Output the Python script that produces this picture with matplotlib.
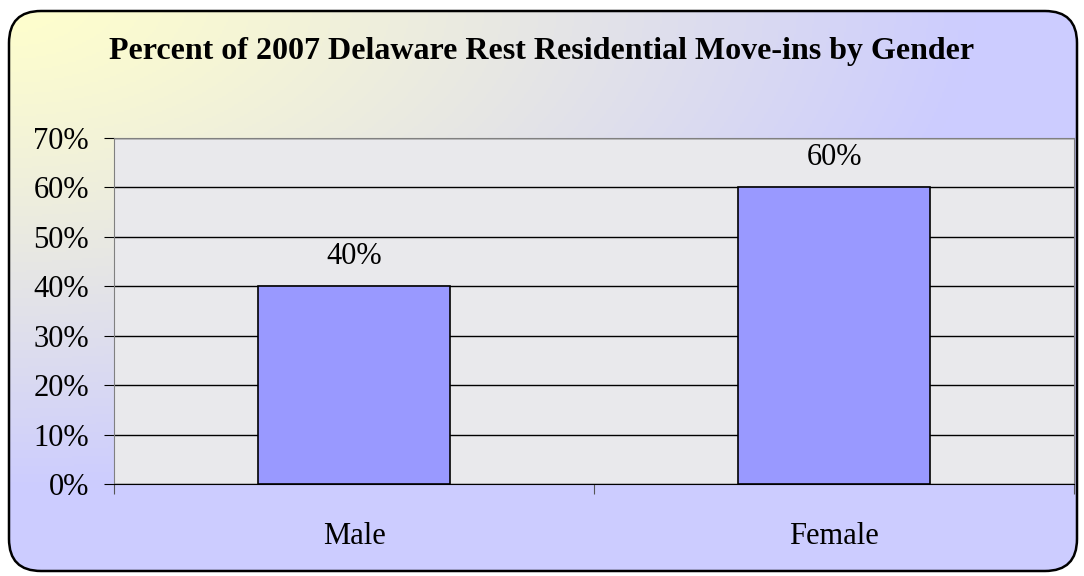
import numpy as np
import matplotlib
matplotlib.use("Agg")
import matplotlib.pyplot as plt
from matplotlib.patches import FancyBboxPatch
from matplotlib.ticker import PercentFormatter

categories = ["Male", "Female"]
percents = [0.40, 0.60]
bar_labels = ["40%", "60%"]

plt.rcParams['font.family'] = ['Liberation Serif', 'DejaVu Serif']

W, H = 1084, 576
fig = plt.figure(figsize=(W / 100, H / 100), dpi=100)

# background: rounded box with a yellow -> lavender gradient from the top-left corner
bg = fig.add_axes([0, 0, 1, 1])
bg.set_xlim(0, W)
bg.set_ylim(H, 0)
bg.axis('off')
yy, xx = np.mgrid[0:H:2, 0:W:2]
t = np.clip(np.sqrt((xx / (0.9 * W)) ** 2 + (yy / (0.85 * H)) ** 2), 0, 1) ** 1.2
c0 = np.array([1.0, 1.0, 0.80])
c1 = np.array([0.80, 0.80, 1.0])
img = c0 * (1 - t[..., None]) + c1 * t[..., None]
box = FancyBboxPatch((9, 11), 1068, 560, boxstyle="round,pad=0,rounding_size=32",
                     transform=bg.transData, facecolor='none', edgecolor='black', lw=1.8, zorder=3)
bg.add_patch(box)
im = bg.imshow(img, extent=(0, W, H, 0), aspect='auto', zorder=1)
im.set_clip_path(box)

ax = fig.add_axes([114 / W, 1 - 484 / H, 960 / W, 346 / H])
ax.set_facecolor('#e9e9ec')
x = np.arange(len(categories))
ax.bar(x, percents, width=0.4, color='#9999ff', edgecolor='black', lw=1.2, zorder=3)
for xi, v, lab in zip(x, percents, bar_labels):
    ax.annotate(lab, (xi, v), xytext=(0, 11), textcoords='offset points',
                ha='center', va='bottom', fontsize=22)

ax.set_xlim(-0.5, len(categories) - 0.5)
ax.set_ylim(0, 0.7)
ax.set_yticks(np.arange(0, 0.71, 0.1))
ax.yaxis.set_major_formatter(PercentFormatter(1.0, decimals=0))
ax.set_xticks(np.arange(-0.5, len(categories), 1.0))
ax.set_xticklabels([])
ax.set_xticks(x, minor=True)
ax.set_xticklabels(categories, minor=True)
ax.tick_params(axis='x', which='minor', length=0, pad=27, labelsize=22)
ax.tick_params(axis='x', which='major', length=7, direction='out', color='#555555')
ax.tick_params(axis='y', length=7, direction='out', labelsize=22, pad=11)
ax.yaxis.grid(True, color='black', lw=1.0, zorder=1)
ax.set_axisbelow(True)
for s in ['top', 'right', 'left']:
    ax.spines[s].set_color('#808080')
ax.spines['bottom'].set_color('black')

fig.text(0.5, 1 - 52 / H, "Percent of 2007 Delaware Rest Residential Move-ins by Gender",
         ha='center', va='center', fontsize=23, fontweight='bold')

fig.savefig("out.png", dpi=100)
